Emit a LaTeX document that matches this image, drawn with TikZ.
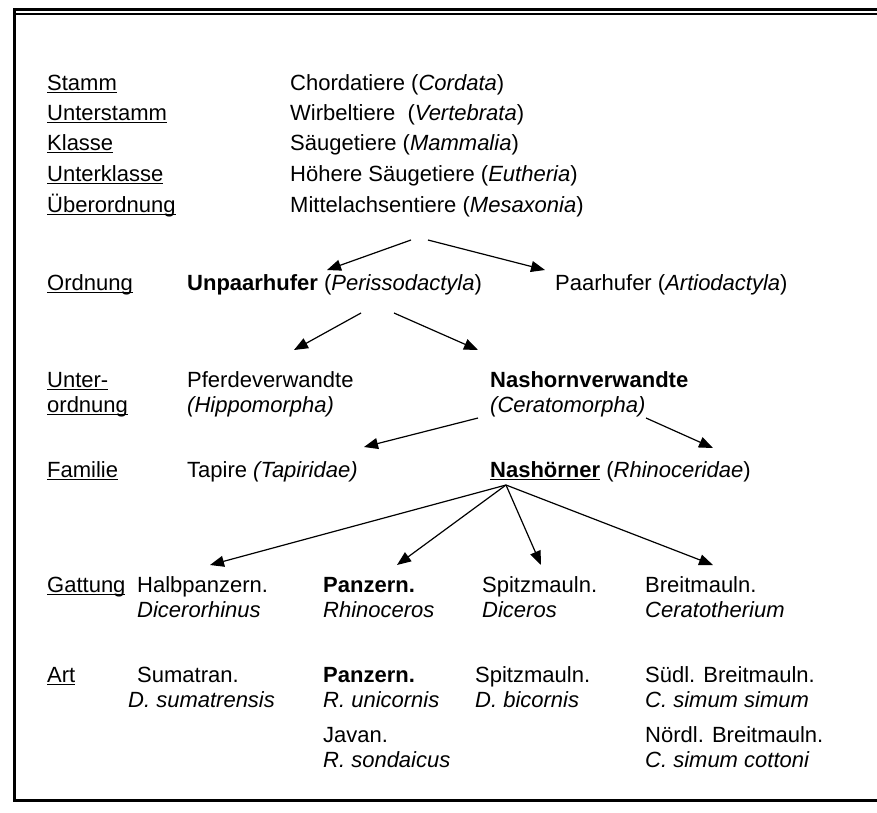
\documentclass[tikz,border=0pt]{standalone}
\usepackage{fontspec}
\setmainfont{Liberation Sans}
\usetikzlibrary{arrows.meta,calc}
\newcommand\ulx[1]{\setbox0=\hbox{#1}\rlap{\rule[-2.8pt]{\wd0}{1.3pt}}\box0\relax}
\begin{document}
\begin{tikzpicture}[x=1pt,y=-1pt,
  every node/.style={inner sep=0pt, anchor=base west, font=\fontsize{22}{25}\selectfont},
  arr/.style={-{Triangle[length=14pt,width=11pt]}, line width=1.2pt},
  frame/.style={line width=3pt}]
\useasboundingbox (0,0) rectangle (877,812);
% frame
\draw[frame] (880,9) -- (14,9) -- (14,800) -- (880,800);
\draw[line width=1.5pt] (14,14) -- (880,14);
% rank labels
\node (rStamm) at (47,90) {\ulx{Stamm}};
\node (rUst) at (47,120) {\ulx{Unterstamm}};
\node (rKl) at (47,150) {\ulx{Klasse}};
\node (rUkl) at (47,181) {\ulx{Unterklasse}};
\node (rUeo) at (47,212) {\ulx{Überordnung}};
\node (rOrd) at (47,290) {\ulx{Ordnung}};
\node (rUo1) at (47,387) {\ulx{Unter-}};
\node (rUo2) at (47,412) {\ulx{ordnung}};
\node (rFam) at (47,477) {\ulx{Familie}};
\node (rGat) at (47,592) {\ulx{Gattung}};
\node (rArt) at (47,682) {\ulx{Art}};
% upper taxa
\node (chord) at (290,90) {Chordatiere (\textit{Cordata})};
\node (wirb) at (290,120) {Wirbeltiere\ \ (\textit{Vertebrata})};
\node (saeug) at (290,150) {Säugetiere (\textit{Mammalia})};
\node (hoeh) at (290,181) {Höhere Säugetiere (\textit{Eutheria})};
\node (mesax) at (290,212) {Mittelachsentiere (\textit{Mesaxonia})};
% Ordnung
\node (unpaar) at (187,290) {\textbf{Unpaarhufer} (\textit{Perissodactyla})};
\node (paar) at (555,290) {Paarhufer (\textit{Artiodactyla})};
% Unterordnung
\node (pferd1) at (187,387) {Pferdeverwandte};
\node (pferd2) at (187,412) {\textit{(Hippomorpha)}};
\node (nash1) at (490,387) {\textbf{Nashornverwandte}};
\node (nash2) at (490,412) {\textit{(Ceratomorpha)}};
% Familie
\node (tapir) at (187,477) {Tapire \textit{(Tapiridae)}};
\node (rhino) at (490,477) {\ulx{\textbf{Nashörner}} (\textit{Rhinoceridae})};
% Gattung
\node (halb1) at (137,592) {Halbpanzern.};
\node (halb2) at (137,617) {\textit{Dicerorhinus}};
\node (panz1) at (323,592) {\textbf{Panzern.}};
\node (panz2) at (323,617) {\textit{Rhinoceros}};
\node (spitz1) at (482,592) {Spitzmauln.};
\node (spitz2) at (482,617) {\textit{Diceros}};
\node (breit1) at (645,592) {Breitmauln.};
\node (breit2) at (645,617) {\textit{Ceratotherium}};
% Art
\node (suma1) at (137,682) {Sumatran.};
\node (suma2) at (128,707) {\textit{D. sumatrensis}};
\node (apanz1) at (323,682) {\textbf{Panzern.}};
\node (apanz2) at (323,707) {\textit{R. unicornis}};
\node (java1) at (323,742) {Javan.};
\node (java2) at (323,767) {\textit{R. sondaicus}};
\node (aspitz1) at (475,682) {Spitzmauln.};
\node (aspitz2) at (475,707) {\textit{D. bicornis}};
\node (sued1) at (645,682) {Südl. Breitmauln.};
\node (sued2) at (645,707) {\textit{C. simum simum}};
\node (noerd1) at (645,742) {Nördl. Breitmauln.};
\node (noerd2) at (645,767) {\textit{C. simum cottoni}};
% arrows
\draw[arr] ($(mesax.base west)+(121,28)$) -- ($(unpaar.base west)+(140,-20)$);
\draw[arr] ($(mesax.base west)+(138,28)$) -- ($(paar.base west)+(-10,-20)$);
\draw[arr] ($(unpaar.base west)+(174,23)$) -- ($(pferd1.base west)+(107,-37)$);
\draw[arr] ($(unpaar.base west)+(207,23)$) -- ($(nash1.base west)+(-12,-37)$);
\draw[arr] ($(nash2.base west)+(-12,6)$) -- ($(tapir.base west)+(177,-30)$);
\draw[arr] ($(nash2.base west)+(156,6)$) -- ($(rhino.base west)+(223,-29)$);
\draw[arr] ($(rhino.base west)+(16,8)$) -- ($(halb1.base west)+(73,-27)$);
\draw[arr] ($(rhino.base west)+(16,8)$) -- ($(panz1.base west)+(74,-27)$);
\draw[arr] ($(rhino.base west)+(16,8)$) -- ($(spitz1.base west)+(59,-27)$);
\draw[arr] ($(rhino.base west)+(16,8)$) -- ($(breit1.base west)+(68,-27)$);
\end{tikzpicture}
\end{document}
